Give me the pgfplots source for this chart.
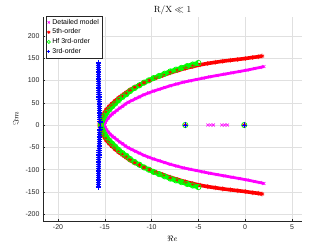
\documentclass[border=0pt]{standalone}
\usepackage{fontspec}
\setsansfont{Liberation Sans}
\usepackage{pgfplots}
\pgfplotsset{compat=1.18}
\definecolor{axgray}{rgb}{0.15,0.15,0.15}
\definecolor{gridgray}{rgb}{0.88,0.88,0.88}
\definecolor{cmag}{rgb}{1,0,1}
\definecolor{cred}{rgb}{1,0,0}
\definecolor{cgreen}{rgb}{0,1,0}
\definecolor{cblue}{rgb}{0,0,1}
\begin{document}
\begin{tikzpicture}
\begin{axis}[
  name=ax,
  scale only axis, width=259bp, height=204bp,
  xmin=-21.6, xmax=6.07, ymin=-215, ymax=242,
  xtick={-20,-15,...,5}, ytick={-200,-150,...,200},
  axis lines*=left,
  axis line style={axgray, line width=0.5pt},
  tick style={axgray, line width=0.4pt},
  tick align=inside, major tick length=2.5bp,
  grid=major, major grid style={gridgray, line width=0.4pt},
  ticklabel style={font=\sffamily\fontsize{7}{8}\selectfont, text=axgray},
  /pgf/number format/assume math mode=true,
  xlabel={$\Re e$}, ylabel={$\Im m$},
  label style={font=\fontsize{8}{9}\selectfont},
  legend style={at={(rel axis cs:0.0116,1.005)}, anchor=north west,
    font=\sffamily\fontsize{7}{8}\selectfont, draw=axgray, line width=0.4pt,
    inner sep=1pt, row sep=-0.8pt, fill=white},
  legend cell align=left,
  legend image code/.code={\draw[mark repeat=2,mark phase=2] plot coordinates {(0bp,0bp)(10bp,0bp)(20bp,0bp)};},
  legend image post style={mark size=1.6pt},
]
% ---------- Detailed model ----------
\addplot[forget plot, cmag, line width=2.8pt] table[x=x,y=y] {
x y
-15.05 2
-14.95 6
-14.8 11
-14.6 16
-14.4 21
-14.2 25
-14.0 28
-13.7 33
-13.4 38
-13.1 42
-12.8 47
-12.5 51
-12.1 55
-11.7 59
-11.3 63
-10.8 68
-10.3 72
-9.8 76
-9.2 80
-8.6 84
-8.0 88
-7.3 92
-6.6 96
-5.9 99
-5.2 102
-4.5 105
-3.8 108
-3.0 111
-2.2 114
-1.4 117
-0.6 120
0.2 123
1.0 126.5
1.6 129
2.0 131
};
\addplot[forget plot, cmag, line width=2.8pt] table[x=x,y=y] {
x y
-15.05 -2
-14.95 -6
-14.8 -11
-14.6 -16
-14.4 -21
-14.2 -25
-14.0 -28
-13.7 -33
-13.4 -38
-13.1 -42
-12.8 -47
-12.5 -51
-12.1 -55
-11.7 -59
-11.3 -63
-10.8 -68
-10.3 -72
-9.8 -76
-9.2 -80
-8.6 -84
-8.0 -88
-7.3 -92
-6.6 -96
-5.9 -99
-5.2 -102
-4.5 -105
-3.8 -108
-3.0 -111
-2.2 -114
-1.4 -117
-0.6 -120
0.2 -123
1.0 -126.5
1.6 -129
2.0 -131
};
\addplot[only marks, cmag, mark=x, mark size=2.1pt, mark options={line width=0.6pt}] table[x=x,y=y] {
x y
-15.05 2
-14.95 6
-14.8 11
-14.6 16
-14.4 21
-14.2 25
-14.0 28
-13.7 33
-13.4 38
-13.1 42
-12.8 47
-12.5 51
-12.1 55
-11.7 59
-11.3 63
-10.8 68
-10.3 72
-9.8 76
-9.2 80
-8.6 84
-8.0 88
-7.3 92
-6.6 96
-5.9 99
-5.2 102
-4.5 105
-3.8 108
-3.0 111
-2.2 114
-1.4 117
-0.6 120
0.2 123
1.0 126.5
1.6 129
2.0 131
-15.05 -2
-14.95 -6
-14.8 -11
-14.6 -16
-14.4 -21
-14.2 -25
-14.0 -28
-13.7 -33
-13.4 -38
-13.1 -42
-12.8 -47
-12.5 -51
-12.1 -55
-11.7 -59
-11.3 -63
-10.8 -68
-10.3 -72
-9.8 -76
-9.2 -80
-8.6 -84
-8.0 -88
-7.3 -92
-6.6 -96
-5.9 -99
-5.2 -102
-4.5 -105
-3.8 -108
-3.0 -111
-2.2 -114
-1.4 -117
-0.6 -120
0.2 -123
1.0 -126.5
1.6 -129
2.0 -131
-4.0 0
-3.7 0
-3.4 0
-2.5 0
-2.2 0
-1.9 0
-0.1 0
};
\addlegendentry{Detailed model}
% ---------- 5th order ----------
\addplot[forget plot, cred, line width=3.6pt] table[x=x,y=y] {
x y
-15.55 2
-15.45 8
-15.35 15
-15.2 22
-15.0 29
-14.8 35
-14.5 42
-14.2 48
-13.9 54
-13.5 61
-13.1 67
-12.7 73
-12.3 79
-11.8 85
-11.3 90
-10.8 95
-10.2 100
-9.5 106
-8.8 111
-8.0 117
-7.2 122
-6.4 127
-5.6 131
-4.8 135
-4.0 138
-3.2 140.5
-2.4 143
-1.6 145
-0.8 147
0.0 149
0.8 151.5
1.4 153
1.8 154.5
};
\addplot[forget plot, cred, line width=3.6pt] table[x=x,y=y] {
x y
-15.55 -2
-15.45 -8
-15.35 -15
-15.2 -22
-15.0 -29
-14.8 -35
-14.5 -42
-14.2 -48
-13.9 -54
-13.5 -61
-13.1 -67
-12.7 -73
-12.3 -79
-11.8 -85
-11.3 -90
-10.8 -95
-10.2 -100
-9.5 -106
-8.8 -111
-8.0 -117
-7.2 -122
-6.4 -127
-5.6 -131
-4.8 -135
-4.0 -138
-3.2 -140.5
-2.4 -143
-1.6 -145
-0.8 -147
0.0 -149
0.8 -151.5
1.4 -153
1.8 -154.5
};
\addplot[only marks, cred, mark=asterisk, mark size=2.4pt, mark options={line width=0.8pt}] table[x=x,y=y] {
x y
-15.55 2
-15.45 8
-15.35 15
-15.2 22
-15.0 29
-14.8 35
-14.5 42
-14.2 48
-13.9 54
-13.5 61
-13.1 67
-12.7 73
-12.3 79
-11.8 85
-11.3 90
-10.8 95
-10.2 100
-9.5 106
-8.8 111
-8.0 117
-7.2 122
-6.4 127
-5.6 131
-4.8 135
-4.0 138
-3.2 140.5
-2.4 143
-1.6 145
-0.8 147
0.0 149
0.8 151.5
1.4 153
1.8 154.5
-15.55 -2
-15.45 -8
-15.35 -15
-15.2 -22
-15.0 -29
-14.8 -35
-14.5 -42
-14.2 -48
-13.9 -54
-13.5 -61
-13.1 -67
-12.7 -73
-12.3 -79
-11.8 -85
-11.3 -90
-10.8 -95
-10.2 -100
-9.5 -106
-8.8 -111
-8.0 -117
-7.2 -122
-6.4 -127
-5.6 -131
-4.8 -135
-4.0 -138
-3.2 -140.5
-2.4 -143
-1.6 -145
-0.8 -147
0.0 -149
0.8 -151.5
1.4 -153
1.8 -154.5
-6.4 0
-0.1 0
};
\addlegendentry{5th-order}
% ---------- Hf 3rd order ----------
\addplot[forget plot, cgreen, line width=4.4pt] table[x=x,y=y] {
x y
-15.4 2
-15.3 8
-15.15 15
-15.0 21
-14.8 27
-14.5 35
-14.2 42
-13.9 48
-13.5 56
-13.1 63
-12.7 69
-12.3 76
-11.8 83
-11.3 89
-10.8 95
-10.3 100
-9.8 105
-9.2 110
-8.6 115
-8.0 120
-7.4 124
-6.8 128
-6.2 132
-5.6 135.5
-5.0 139
};
\addplot[forget plot, cgreen, line width=4.4pt] table[x=x,y=y] {
x y
-15.4 -2
-15.3 -8
-15.15 -15
-15.0 -21
-14.8 -27
-14.5 -35
-14.2 -42
-13.9 -48
-13.5 -56
-13.1 -63
-12.7 -69
-12.3 -76
-11.8 -83
-11.3 -89
-10.8 -95
-10.3 -100
-9.8 -105
-9.2 -110
-8.6 -115
-8.0 -120
-7.4 -124
-6.8 -128
-6.2 -132
-5.6 -135.5
-5.0 -139
};
\addplot[only marks, cgreen, mark=o, mark size=2.7pt, mark options={line width=0.7pt}] table[x=x,y=y] {
x y
-15.4 2
-15.3 8
-15.15 15
-15.0 21
-14.8 27
-14.5 35
-14.2 42
-13.9 48
-13.5 56
-13.1 63
-12.7 69
-12.3 76
-11.8 83
-11.3 89
-10.8 95
-10.3 100
-9.8 105
-9.2 110
-8.6 115
-8.0 120
-7.4 124
-6.8 128
-6.2 132
-5.6 135.5
-5.0 139
-15.4 -2
-15.3 -8
-15.15 -15
-15.0 -21
-14.8 -27
-14.5 -35
-14.2 -42
-13.9 -48
-13.5 -56
-13.1 -63
-12.7 -69
-12.3 -76
-11.8 -83
-11.3 -89
-10.8 -95
-10.3 -100
-9.8 -105
-9.2 -110
-8.6 -115
-8.0 -120
-7.4 -124
-6.8 -128
-6.2 -132
-5.6 -135.5
-5.0 -139
-6.4 0
-0.1 0
};
\addlegendentry{Hf 3rd-order}
% ---------- 3rd order ----------
\addplot[forget plot, cblue, line width=3pt] table[x=x,y=y] {
x y
-15.53 13
-15.60 49
-15.65 105
-15.68 139
};
\addplot[forget plot, cblue, line width=3pt] table[x=x,y=y] {
x y
-15.53 -13
-15.60 -49
-15.65 -105
-15.68 -139
};
\addplot[only marks, cblue, mark=+, mark size=2.6pt, mark options={line width=1pt}] table[x=x,y=y] {
x y
-15.50 5
-15.52 9
-15.53 13
-15.54 17
-15.55 21
-15.56 25
-15.57 29
-15.57 33
-15.58 37
-15.59 41
-15.59 45
-15.60 49
-15.60 53
-15.61 57
-15.61 61
-15.62 65
-15.62 69
-15.62 73
-15.63 77
-15.63 81
-15.63 85
-15.64 89
-15.64 93
-15.64 97
-15.65 101
-15.65 105
-15.65 109
-15.66 113
-15.66 117
-15.66 121
-15.67 125
-15.67 129
-15.67 133
-15.68 137
-15.68 140
-15.50 -5
-15.52 -9
-15.53 -13
-15.54 -17
-15.55 -21
-15.56 -25
-15.57 -29
-15.57 -33
-15.58 -37
-15.59 -41
-15.59 -45
-15.60 -49
-15.60 -53
-15.61 -57
-15.61 -61
-15.62 -65
-15.62 -69
-15.62 -73
-15.63 -77
-15.63 -81
-15.63 -85
-15.64 -89
-15.64 -93
-15.64 -97
-15.65 -101
-15.65 -105
-15.65 -109
-15.66 -113
-15.66 -117
-15.66 -121
-15.67 -125
-15.67 -129
-15.67 -133
-15.68 -137
-15.68 -140
-6.4 0
-0.1 0
};
\addlegendentry{3rd-order}
\end{axis}
\node[anchor=base, font=\fontsize{9}{10}\selectfont] at ([yshift=4bp]ax.north) {$\mathrm{R/X} \ll 1$};
\pgfresetboundingbox
\path ([shift={(-43bp,-28bp)}]ax.south west) rectangle ([shift={(30bp,17bp)}]ax.north east);
\end{tikzpicture}
\end{document}
